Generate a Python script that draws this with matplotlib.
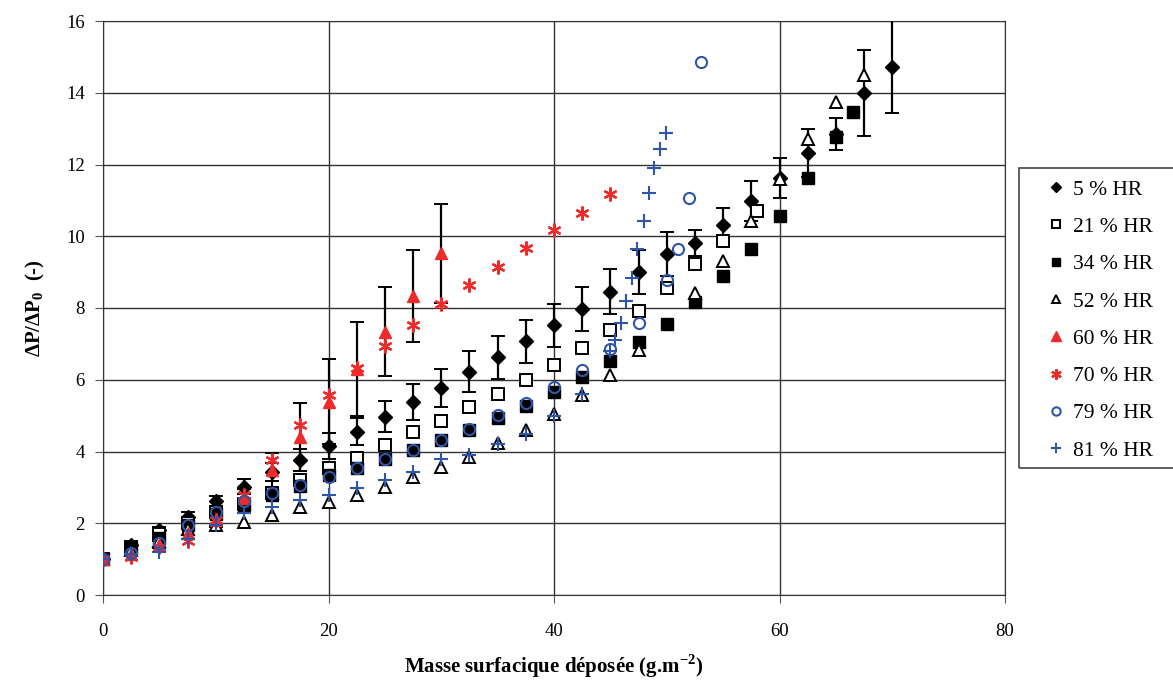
import matplotlib.pyplot as plt
from matplotlib.patches import Rectangle

plt.rcParams['font.family'] = ['Liberation Serif', 'DejaVu Serif']
plt.rcParams['mathtext.fontset'] = 'custom'
plt.rcParams['mathtext.rm'] = 'Liberation Serif'
plt.rcParams['mathtext.bf'] = 'Liberation Serif:bold'

# 5 % HR (with error bars)
x_5 = [0, 2.5, 5, 7.5, 10, 12.5, 15, 17.5, 20, 22.5, 25, 27.5, 30, 32.5, 35, 37.5,
       40, 42.5, 45, 47.5, 50, 52.5, 55, 57.5, 60, 62.5, 65, 67.5, 70]
y_5 = [1.0, 1.4, 1.8, 2.18, 2.62, 3.02, 3.42, 3.76, 4.16, 4.55, 4.97, 5.37, 5.78, 6.22, 6.63,
       7.07, 7.52, 7.97, 8.45, 9.0, 9.5, 9.81, 10.31, 10.98, 11.63, 12.32, 12.86, 13.99, 14.73]
err_5 = [0, 0.05, 0.1, 0.12, 0.15, 0.2, 0.25, 0.3, 0.36, 0.37, 0.43, 0.5, 0.53, 0.57, 0.6,
         0.6, 0.6, 0.62, 0.63, 0.62, 0.62, 0.37, 0.48, 0.55, 0.55, 0.68, 0.45, 1.2, 1.3]

# 21 % HR
x_21 = [0, 2.5, 5, 7.5, 10, 12.5, 15, 17.5, 20, 22.5, 25, 27.5, 30, 32.5, 35, 37.5,
        40, 42.5, 45, 47.5, 50, 52.5, 55, 58]
y_21 = [1.0, 1.35, 1.7, 2.0, 2.3, 2.55, 2.85, 3.2, 3.53, 3.82, 4.18, 4.53, 4.86, 5.23, 5.59,
        5.99, 6.41, 6.88, 7.39, 7.92, 8.55, 9.22, 9.88, 10.71]

# 34 % HR
x_34 = [0, 2.5, 5, 7.5, 10, 12.5, 15, 17.5, 20, 22.5, 25, 27.5, 30, 32.5, 35, 37.5,
        40, 42.5, 45, 47.5, 50, 52.5, 55, 57.5, 60, 62.5, 65, 66.5]
y_34 = [1.0, 1.3, 1.6, 1.95, 2.25, 2.5, 2.8, 3.05, 3.35, 3.55, 3.78, 4.04, 4.32, 4.6, 4.93,
        5.27, 5.67, 6.09, 6.52, 7.04, 7.55, 8.16, 8.89, 9.64, 10.57, 11.63, 12.78, 13.47]

# 52 % HR
x_52 = [0, 2.5, 5, 7.5, 10, 12.5, 15, 17.5, 20, 22.5, 25, 27.5, 30, 32.5, 35, 37.5,
        40, 42.5, 45, 47.5, 52.5, 55, 57.5, 60, 62.5, 65, 67.5]
y_52 = [1.0, 1.25, 1.5, 1.85, 1.95, 2.04, 2.23, 2.46, 2.6, 2.79, 3.02, 3.28, 3.56, 3.86, 4.25,
        4.6, 5.04, 5.57, 6.13, 6.83, 8.41, 9.31, 10.43, 11.59, 12.71, 13.75, 14.49]

# 60 % HR (with error bars)
x_60 = [0, 2.5, 5, 7.5, 10, 12.5, 15, 17.5, 20, 22.5, 25, 27.5, 30]
y_60 = [1.0, 1.15, 1.4, 1.72, 2.1, 2.7, 3.48, 4.41, 5.39, 6.3, 7.34, 8.33, 9.52]
err_60 = [0, 0.05, 0.1, 0.15, 0.2, 0.25, 0.48, 0.94, 1.19, 1.3, 1.24, 1.29, 1.37]

# 70 % HR
x_70 = [0, 2.5, 5, 7.5, 10, 12.5, 15, 17.5, 20, 22.5, 25, 27.5, 30, 32.5, 35, 37.5,
        40, 42.5, 45]
y_70 = [1.0, 1.07, 1.35, 1.5, 2.1, 2.79, 3.76, 4.74, 5.57, 6.32, 6.94, 7.53, 8.11, 8.64, 9.15,
        9.66, 10.17, 10.64, 11.17]

# 79 % HR
x_79 = [0, 2.5, 5, 7.5, 10, 12.5, 15, 17.5, 20, 22.5, 25, 27.5, 30, 32.5, 35, 37.5,
        40, 42.5, 45, 47.5, 50, 51, 52, 53]
y_79 = [1.0, 1.17, 1.45, 1.95, 2.32, 2.63, 2.84, 3.07, 3.3, 3.53, 3.78, 4.04, 4.32, 4.62, 5.02,
        5.36, 5.81, 6.27, 6.85, 7.57, 8.78, 9.64, 11.06, 14.87]

# 81 % HR
x_81 = [0, 2.5, 5, 7.5, 10, 12.5, 15, 17.5, 20, 22.5, 25, 27.5, 30, 32.5, 35, 37.5,
        40, 42.5, 45, 45.45, 45.95, 46.4, 46.9, 47.4, 47.95, 48.45, 48.9, 49.4, 49.9]
y_81 = [1.0, 1.15, 1.2, 1.55, 1.95, 2.28, 2.46, 2.65, 2.79, 2.98, 3.2, 3.44, 3.78, 3.9, 4.2,
        4.5, 4.98, 5.6, 6.8, 7.11, 7.57, 8.2, 8.85, 9.64, 10.43, 11.2, 11.9, 12.43, 12.87]

red = "#ee2a2a"
blue = "#2f55a8"

fig = plt.figure(figsize = (11.73, 6.84), dpi = 100)
ax = fig.add_axes([103 / 1173, 1 - 595 / 684, 902 / 1173, 574 / 684])

ax.errorbar(x_5, y_5, yerr = err_5, fmt = "none", ecolor = "black",
            elinewidth = 1.6, capsize = 5, capthick = 1.4, zorder = 3)
ax.errorbar(x_60, y_60, yerr = err_60, fmt = "none", ecolor = "black",
            elinewidth = 1.6, capsize = 5, capthick = 1.4, zorder = 3)

ax.plot(x_5, y_5, "D", color = "black", markersize = 7, label = "5 % HR", zorder = 4)
ax.plot(x_21, y_21, "s", mfc = "white", mec = "black", mew = 1.4, markersize = 8,
        label = "21 % HR", zorder = 4)
ax.plot(x_34, y_34, "s", color = "black", markersize = 8, label = "34 % HR", zorder = 4)
ax.plot(x_52, y_52, "^", mfc = "white", mec = "black", mew = 1.4, markersize = 8,
        label = "52 % HR", zorder = 4)
ax.plot(x_60, y_60, "^", color = red, markersize = 9, label = "60 % HR", zorder = 4)
ax.plot(x_70, y_70, marker = (6, 2, 0), linestyle = "none", color = red, mew = 1.6,
        markersize = 10, label = "70 % HR", zorder = 4)
ax.plot(x_79, y_79, "o", mfc = "none", mec = blue, mew = 1.5, markersize = 8,
        label = "79 % HR", zorder = 4)
ax.plot(x_81, y_81, "+", color = blue, mew = 1.5, markersize = 10, label = "81 % HR", zorder = 4)

ax.set_xlim(0, 80)
ax.set_ylim(0, 16)
ax.set_xticks(range(0, 81, 20))
ax.set_yticks(range(0, 17, 2))
ax.grid(True, color = "#333333", linewidth = 1)
ax.set_axisbelow(True)
for spine in ax.spines.values():
    spine.set_color("#333333")
ax.tick_params(direction = "out", length = 6, color = "#555555", labelsize = 13.5)
ax.tick_params(axis = "x", pad = 14)
ax.tick_params(axis = "y", pad = 7)

ax.set_xlabel("Masse surfacique déposée (g.m$^{\\mathbf{-2}}$)", fontsize = 15,
              fontweight = "bold", labelpad = 9)
ax.set_ylabel("ΔP/ΔP$_{\\mathbf{0}}$  (-)", fontsize = 15, fontweight = "bold", labelpad = 14)

fig.patches.append(Rectangle((1019 / 1173, 1 - 468 / 684), 170 / 1173, 300 / 684,
                             transform = fig.transFigure, fill = False,
                             edgecolor = "#444444", linewidth = 1.2))
fig.legend(*ax.get_legend_handles_labels(), loc = "upper left",
           bbox_to_anchor = (1040 / 1173, 1 - 171 / 684), frameon = False,
           fontsize = 15.5, handlelength = 0.7, handletextpad = 0.45,
           labelspacing = 0.8, markerscale = 0.75, borderaxespad = 0)

fig.savefig("out.png", dpi = 100)
